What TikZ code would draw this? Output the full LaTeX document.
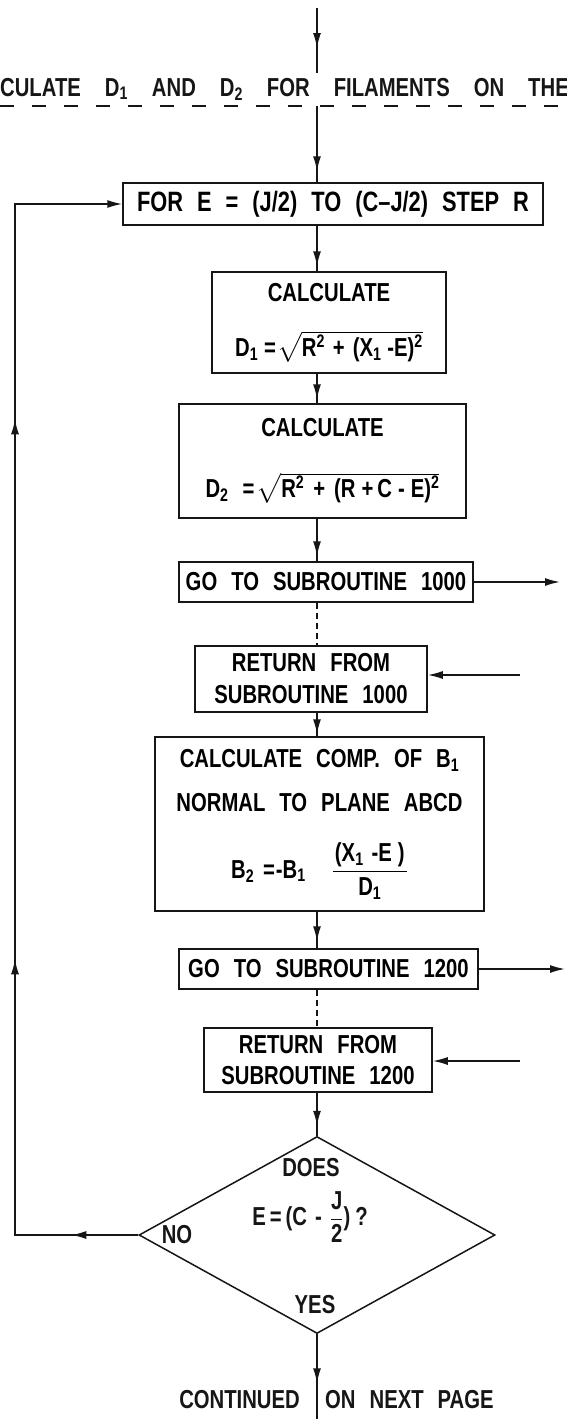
\documentclass[tikz,border=0pt]{standalone}
\usepackage{amsmath}
\usepackage{fontspec}
\usepackage{tikz}
\usetikzlibrary{arrows.meta,positioning,calc,shapes.geometric,decorations.markings}
\newfontfamily\flowfont{Liberation Sans}[Ligatures=TeX,FakeStretch=0.78]
\newcommand\flowtext{\flowfont\bfseries\fontsize{26}{29}\selectfont\spaceskip=14pt\relax}
\newcommand\flowbig{\flowfont\bfseries\fontsize{28}{32}\selectfont\spaceskip=14pt\relax}
\newcommand\flowhead{\flowfont\bfseries\fontsize{26}{30}\selectfont\spaceskip=24pt\relax}
\definecolor{fink}{HTML}{161616}

\tikzset{
  flowbox/.style={draw=fink,line width=1.5pt,inner sep=0pt,align=center},
  lbl/.style={text=fink,inner sep=0pt},
  flow/.style={draw=fink,line width=1.6pt},
  linkdash/.style={draw=fink,line width=1.6pt,dash pattern=on 6pt off 4pt},
  midarrow/.style={postaction={decorate},
    decoration={markings,mark=at position #1 with {\arrow{Latex[length=15pt,width=8pt]}}}},
  bigtext/.style={font=\flowbig},
}

\begin{document}
\begin{tikzpicture}[x=1pt,y=-1pt,font=\flowtext,
  >={Latex[length=15pt,width=8pt]}]
  \useasboundingbox (0,0) rectangle (566,1419);
  \coordinate (spine) at (317,0);
  \coordinate (loopx) at (15,0);

  % header strip
  \begin{scope}
    \clip (0,0) rectangle (566,1419);
    \node[lbl,anchor=base west,font=\flowhead] (head) at (0,96)
      {\llap{CAL}CULATE D\textsubscript{1} AND D\textsubscript{2} FOR FILAMENTS ON THE};
    \coordinate (dashl) at (0,106);
    \coordinate (dashr) at (566,106);
    \draw[flow,dash pattern=on 14pt off 18pt] (dashl) -- (dashr);
  \end{scope}
  \coordinate (entry) at (317,8);
  \coordinate (entryend) at (317,73);
  \draw[flow,midarrow=40pt] (entry) -- (entryend);

  % boxes
  \node[flowbox,bigtext,minimum width=420pt,minimum height=42pt] (loopstart) at (333,204)
    {FOR E = (J/2) TO (C--J/2) STEP R};
  \node[flowbox,minimum width=234pt,minimum height=101pt] (calcone) at (329,322.5)
    {CALCULATE\\[26pt]
     D\textsubscript{1}\kern6pt=\kern1pt$\sqrt{\mbox{R\textsuperscript{2}\kern8pt+\kern8pt(X\textsubscript{1}\kern6pt-E)\textsuperscript{2}}}$};
  \node[flowbox,minimum width=287pt,minimum height=114pt] (calctwo) at (322.5,461)
    {CALCULATE\\[32pt]
     D\textsubscript{2}\kern14pt=\kern2pt$\sqrt{\mbox{R\textsuperscript{2}\kern9pt+\kern9pt(R\kern6pt+\kern4ptC\kern6pt-\kern6ptE)\textsuperscript{2}}}$};
  \node[flowbox,minimum width=294pt,minimum height=40pt] (gosubone) at (326,582)
    {GO TO SUBROUTINE 1000};
  \node[flowbox,minimum width=232pt,minimum height=66pt] (retone) at (311,679)
    {RETURN FROM\\[3pt]SUBROUTINE 1000};
  \node[flowbox,minimum width=329pt,minimum height=174pt] (normal) at (319.5,824)
    {CALCULATE COMP. OF B\textsubscript{1}\\[15pt]
     NORMAL TO PLANE ABCD\\[30pt]
     B\textsubscript{2}\kern9pt=\kern1pt-B\textsubscript{1}\kern26pt$\dfrac{\mbox{\kern2pt(X\textsubscript{1}\kern8pt-E\kern6pt)\kern2pt}}{\mbox{D\textsubscript{1}}}$};
  \node[flowbox,minimum width=299pt,minimum height=40pt] (gosubtwo) at (328.5,969)
    {GO TO SUBROUTINE 1200};
  \node[flowbox,minimum width=228pt,minimum height=64pt] (rettwo) at (318,1060)
    {RETURN FROM\\[2pt]SUBROUTINE 1200};

  % decision
  \node[draw=fink,line width=1.5pt,shape=diamond,inner sep=0pt,
        minimum width=356pt,minimum height=197pt] (done) at (317,1235) {};
  \node[lbl] (does) at (311,1168) {DOES};
  \node[lbl] (cond) at (310,1217) {E\kern4pt=\kern4pt(C\kern8pt-\kern8pt$\dfrac{\mbox{J}}{\mbox{2}}$)\kern5pt?};
  \node[lbl] (no) at (177,1235) {NO};
  \node[lbl] (yes) at (315,1305) {YES};
  \node[lbl,anchor=east] (cont) at (300,1400) {CONTINUED};
  \node[lbl,anchor=west] (nextpage) at (325,1400) {ON NEXT PAGE};
  \coordinate (exit) at (317,1419);

  % calls out to the subroutines and back
  \coordinate (callone) at (560,582);
  \coordinate (backone) at (520,675);
  \coordinate (calltwo) at (565,969);
  \coordinate (backtwo) at (520,1061);

  % main line
  \draw[flow,midarrow=-11pt] (dashl -| spine) -- (loopstart.north -| spine);
  \draw[flow,midarrow=-5pt] (loopstart.south -| spine) -- (calcone.north -| spine);
  \draw[flow,midarrow=-4pt] (calcone.south -| spine) -- (calctwo.north -| spine);
  \draw[flow,midarrow=-5pt] (calctwo.south -| spine) -- (gosubone.north -| spine);
  \draw[linkdash] (gosubone.south -| spine) -- (retone.north -| spine);
  \draw[flow,midarrow=-2pt] (retone.south -| spine) -- (normal.north -| spine);
  \draw[flow,midarrow=-7pt] (normal.south -| spine) -- (gosubtwo.north -| spine);
  \draw[linkdash] (gosubtwo.south -| spine) -- (rettwo.north -| spine);
  \draw[flow,midarrow=-10pt] (rettwo.south -| spine) -- (done.north);
  \draw[flow,midarrow=49pt] (done.south) -- (exit);

  \draw[flow,->] (gosubone.east) -- (callone);
  \draw[flow,->] (backone) -- (backone -| retone.east);
  \draw[flow,->] (gosubtwo.east) -- (calltwo);
  \draw[flow,->] (backtwo) -- (backtwo -| rettwo.east);

  % NO branch back to the loop
  \draw[flow,->,postaction={decorate},
    decoration={markings,
      mark=at position 67pt with {\arrow{Latex[length=15pt,width=8pt]}},
      mark=at position 399pt with {\arrow{Latex[length=15pt,width=8pt]}},
      mark=at position 939pt with {\arrow{Latex[length=15pt,width=8pt]}}}]
    (done.west) -- (done.west -| loopx) -- (loopx |- loopstart.west) -- (loopstart.west);
\end{tikzpicture}
\end{document}
